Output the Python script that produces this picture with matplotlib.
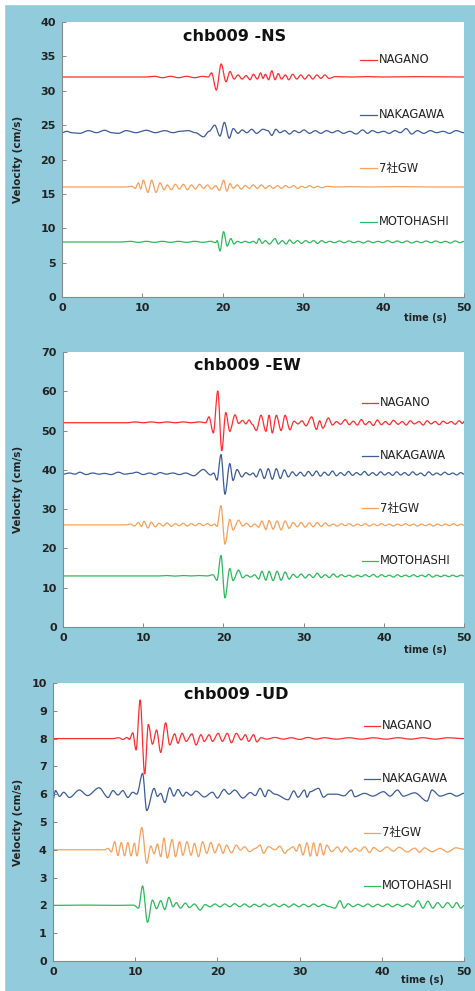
import numpy as np
import matplotlib
matplotlib.use("Agg")
import matplotlib.pyplot as plt
from matplotlib.lines import Line2D
from matplotlib.patches import Rectangle, PathPatch
from matplotlib.path import Path

plt.rcParams['font.family'] = ['DejaVu Sans', 'Noto Sans CJK JP']

stations = ["NAGANO", "NAKAGAWA", "7社GW", "MOTOHASHI"]
colors = ["#FF2D2D", "#3D5C99", "#F8A15A", "#2DBA5C"]

# ---- NS component: (time s, velocity cm/s) turning points, offsets added on plot
ns_offsets = [32, 24, 16, 8]
ns_nagano = [(0, 0), (10.5, 0), (11.5, 0.1), (12.5, -0.1), (13.5, 0.1), (14.5, -0.1), (15.5, 0.1),
             (16.5, -0.1), (17.5, 0.1), (18.2, 0), (18.6, 0.6), (19.2, -1.9), (19.8, 1.9), (20.4, -0.7),
             (20.9, 0.8), (21.4, -0.3), (21.9, 0.3), (22.4, -0.3), (22.9, 0.2), (23.4, -0.4), (23.8, 0.4),
             (24.3, -0.3), (24.7, 0.6), (25.0, -0.2), (25.3, 0.4), (25.7, -0.4), (26.1, 0.9), (26.5, -0.4),
             (26.9, 0.5), (27.3, -0.3), (27.8, 0.3), (28.2, -0.4), (28.7, 0.4), (29.2, -0.3), (29.7, 0.3),
             (30.2, -0.3), (30.7, 0.3), (31.2, -0.3), (31.7, 0.3), (32.2, -0.2), (32.7, 0.3), (33.2, -0.2),
             (34.0, 0.05), (36.0, 0), (38.0, 0.05), (40.0, 0), (44.0, 0.05), (50.0, 0)]
ns_nakagawa = [(0, -0.1), (0.6, 0.1), (1.2, -0.1), (2.2, -0.2), (3.3, 0.2), (4.3, -0.1), (5.3, 0.25),
               (6.2, -0.1), (7.0, -0.2), (8.0, 0.2), (9.2, -0.1), (10.5, 0.25), (11.6, -0.1), (12.8, 0.2),
               (13.8, -0.1), (14.7, 0.1), (15.7, 0.2), (16.6, -0.1), (17.6, -0.7), (18.3, 0.1), (19.0, 1.0),
               (19.65, -0.6), (20.2, 1.4), (20.8, -0.9), (21.3, 0.5), (21.9, -0.2), (22.4, 0.3), (23.0, -0.1),
               (23.6, 0.4), (24.2, -0.2), (25.0, 0.4), (25.6, 0.2), (26.1, -0.5), (26.6, 0.4), (27.1, -0.1),
               (27.7, 0.2), (28.3, -0.3), (28.9, 0.2), (29.5, -0.1), (30.1, 0.3), (30.8, -0.2), (31.5, 0.2),
               (32.2, -0.2), (32.9, 0.2), (33.6, -0.1), (34.3, 0.2), (35.0, -0.2), (35.8, 0.1), (36.6, -0.3),
               (37.4, 0.3), (38.0, -0.2), (38.6, 0.2), (39.3, -0.1), (40.0, 0.1), (40.7, -0.2), (41.4, 0.2),
               (42.1, -0.1), (42.8, 0.5), (43.5, -0.3), (44.2, 0.2), (45.0, -0.2), (45.8, 0.2), (46.6, -0.1),
               (47.4, 0.1), (48.2, -0.2), (49.0, 0.2), (50.0, -0.1)]
ns_gw = [(0, 0), (8.0, 0), (8.7, 0.1), (9.1, -0.2), (9.5, 0.6), (9.8, -0.3), (10.1, 1.0), (10.7, -0.8),
         (11.15, 1.0), (11.7, -0.8), (12.2, 0.6), (12.7, -0.4), (13.1, 0.3), (13.6, -0.4), (14.1, 0.4),
         (14.6, -0.3), (15.1, 0.4), (15.6, -0.4), (16.1, 0.3), (16.6, -0.3), (17.1, 0.4), (17.6, -0.2),
         (18.1, 0.3), (18.6, -0.3), (19.1, 0.2), (19.6, -0.5), (20.1, 1.0), (20.5, -0.6), (20.9, 0.5),
         (21.3, -0.2), (21.8, 0.3), (22.3, -0.3), (22.8, 0.2), (23.3, -0.2), (23.8, 0.3), (24.3, -0.2),
         (24.8, 0.3), (25.3, -0.2), (25.8, 0.2), (26.3, -0.2), (26.8, 0.2), (27.3, -0.2), (27.8, 0.2),
         (28.3, -0.1), (28.8, 0.2), (29.3, -0.2), (29.8, 0.1), (30.3, -0.1), (30.8, 0.2), (31.3, -0.1),
         (31.8, 0.1), (32.3, -0.1), (33.0, 0.1), (34.0, 0), (36.0, 0.05), (38.0, 0), (42.0, 0.05),
         (46.0, 0), (50.0, 0)]
ns_moto = [(0, 0), (7.4, 0), (8.5, 0.1), (9.5, -0.05), (10.5, 0.1), (11.5, -0.05), (12.5, 0.1),
           (13.5, -0.05), (14.5, 0.1), (15.5, -0.05), (16.5, 0.1), (17.5, -0.05), (18.5, 0.1), (19.1, -0.1),
           (19.3, 0.2), (19.65, -1.3), (20.1, 1.5), (20.55, -0.6), (21.0, 0.5), (21.4, -0.3), (21.8, 0.1),
           (22.3, -0.1), (22.8, 0.1), (23.3, -0.1), (23.8, 0.1), (24.2, -0.2), (24.5, 0.5), (24.9, -0.2),
           (25.3, 0.2), (25.8, -0.3), (26.5, 0.5), (26.9, -0.3), (27.4, 0.2), (27.9, -0.3), (28.3, 0.3),
           (28.8, -0.2), (29.3, 0.2), (29.8, -0.2), (30.3, 0.2), (30.8, -0.1), (31.3, 0.2), (31.8, -0.2),
           (32.3, 0.2), (32.8, -0.1), (33.3, 0.1), (33.9, -0.1), (34.5, 0.15), (35.1, -0.1), (35.7, 0.15),
           (36.3, -0.1), (36.9, 0.1), (37.5, -0.15), (38.1, 0.15), (38.7, -0.1), (39.3, 0.1), (39.9, -0.1),
           (40.5, 0.2), (41.1, -0.1), (41.7, 0.15), (42.3, -0.1), (42.9, 0.15), (43.5, -0.15), (44.1, 0.1),
           (44.7, -0.1), (45.3, 0.15), (45.9, -0.1), (46.5, 0.15), (47.1, -0.1), (47.7, 0.1), (48.3, -0.15),
           (48.9, 0.15), (49.5, -0.1), (50.0, 0.1)]

# ---- EW component
ew_offsets = [52, 39, 26, 13]
ew_nagano = [(0, 0), (8, 0), (9, 0.2), (10, 0), (11, 0.2), (12, 0), (13, 0.2), (14, 0), (15, 0.2), (16, 0),
             (17, 0.2), (17.8, 0), (18.2, 1.5), (18.75, -2.6), (19.3, 8.1), (19.8, -7.1), (20.3, 2.6),
             (20.8, -2.2), (21.45, 2.0), (21.9, -0.2), (22.4, 0.6), (22.8, -0.3), (23.2, 0.7), (23.6, -0.4),
             (24.1, -2.0), (24.7, 1.9), (25.3, -2.2), (25.7, 1.9), (26.1, -2.6), (26.6, 1.9), (27.2, -2.0),
             (27.7, 1.9), (28.3, -1.8), (28.8, 0.4), (29.3, -0.3), (29.8, 0.5), (30.3, -0.8), (31.0, 1.5),
             (31.6, -1.7), (32.0, 0.5), (32.4, -1.4), (33.1, 1.2), (33.6, -0.6), (34.1, 0.3), (34.6, -0.4),
             (35.2, 0.8), (35.7, -0.5), (36.2, 0.4), (36.7, -0.6), (37.2, 0.8), (37.7, -0.5), (38.2, 0.3),
             (38.7, -0.7), (39.2, 0.7), (39.7, -0.5), (40.2, 0.3), (40.7, -0.5), (41.2, 0.6), (41.8, -0.4),
             (42.3, 0.3), (42.8, -0.6), (43.3, 0.5), (43.8, -0.3), (44.4, 0.3), (44.9, -0.6), (45.4, 0.5),
             (45.9, -0.3), (46.4, 0.3), (46.9, -0.5), (47.4, 0.4), (47.9, -0.2), (48.4, 0.3), (48.9, -0.4),
             (49.4, 0.5), (49.8, -0.2), (50.0, 0.3)]
ew_nakagawa = [(0, -0.1), (0.8, 0.2), (1.5, -0.1), (2.1, 0.4), (2.9, -0.2), (3.7, 0.2), (4.5, -0.1),
               (5.2, 0.1), (6.0, -0.2), (6.9, 0.4), (7.7, -0.1), (8.5, 0.1), (9.2, 0.4), (10.0, -0.2),
               (10.8, 0.2), (11.5, -0.2), (12.1, 0.3), (12.9, -0.1), (13.7, 0.2), (14.5, -0.2), (15.3, 0.2),
               (16.3, -0.5), (17.5, 1.1), (18.4, -0.3), (18.8, 0.2), (19.2, -1.6), (19.7, 4.9), (20.2, -5.2),
               (20.8, 2.6), (21.2, -1.7), (21.7, 1.1), (22.3, -0.8), (22.8, 0.3), (23.3, -0.3), (23.7, 0.2),
               (24.1, -0.8), (24.6, 1.2), (25.1, -1.2), (25.6, 1.3), (26.1, -1.4), (26.6, 1.3), (27.1, -1.2),
               (27.6, 1.0), (28.1, -0.8), (28.6, 0.5), (29.1, -0.5), (29.6, 0.4), (30.1, -0.6), (30.6, 0.6),
               (31.1, -0.5), (31.6, 0.7), (32.1, -0.6), (32.6, 0.4), (33.1, -0.4), (33.6, 0.7), (34.1, -0.5),
               (34.6, 0.3), (35.1, -0.4), (35.6, 0.6), (36.1, -0.4), (36.6, 0.3), (37.1, -0.3), (37.6, 0.6),
               (38.1, -0.4), (38.6, 0.3), (39.1, -0.4), (39.6, 0.5), (40.1, -0.3), (40.6, 0.3), (41.1, -0.4),
               (41.6, 0.5), (42.1, -0.3), (42.6, 0.3), (43.1, -0.4), (43.6, 0.5), (44.1, -0.3), (44.6, 0.2),
               (45.1, -0.5), (45.6, 0.5), (46.1, -0.3), (46.6, 0.2), (47.1, -0.3), (47.6, 0.4), (48.1, -0.2),
               (48.6, 0.2), (49.1, -0.3), (49.6, 0.3), (50.0, -0.1)]
ew_gw = [(0, 0), (7.9, 0), (8.4, 0.2), (8.9, -0.3), (9.4, 0.6), (9.8, -0.4), (10.1, 0.9), (10.6, -0.8),
         (11.0, 0.7), (11.5, -0.5), (12.0, 0.4), (12.5, -0.3), (13.0, 0.5), (13.5, -0.4), (14.0, 0.3),
         (14.5, -0.2), (15.0, 0.4), (15.5, -0.3), (16.0, 0.3), (16.5, -0.2), (17.0, 0.4), (17.5, -0.2),
         (18.0, 0.3), (18.5, -0.2), (18.9, 0.2), (19.2, -0.4), (19.7, 4.9), (20.2, -4.9), (20.8, 1.4),
         (21.2, -1.3), (21.9, 1.2), (22.4, -0.3), (22.9, 0.4), (23.4, -0.5), (23.9, 0.2), (24.4, -0.6),
         (24.8, 1.0), (25.3, -1.2), (25.7, 1.1), (26.2, -1.1), (26.7, 1.0), (27.2, -1.3), (27.7, 1.0),
         (28.2, -0.9), (28.7, 0.6), (29.2, -0.5), (29.7, 0.6), (30.2, -0.6), (30.7, 0.5), (31.2, -0.5),
         (31.7, 0.6), (32.2, -0.4), (32.7, 0.5), (33.2, -0.3), (33.7, 0.2), (34.2, -0.3), (34.7, 0.3),
         (35.2, -0.2), (35.7, 0.3), (36.2, -0.3), (36.7, 0.2), (37.2, -0.2), (37.7, 0.3), (38.2, -0.3),
         (38.7, 0.2), (39.2, -0.2), (39.7, 0.3), (40.2, -0.2), (40.7, 0.2), (41.2, -0.3), (41.7, 0.2),
         (42.2, -0.2), (42.7, 0.3), (43.2, -0.2), (43.7, 0.2), (44.2, -0.3), (44.7, 0.2), (45.2, -0.2),
         (45.7, 0.2), (46.2, -0.3), (46.7, 0.2), (47.2, -0.2), (47.7, 0.2), (48.2, -0.2), (48.7, 0.3),
         (49.2, -0.2), (49.6, 0.2), (50.0, -0.1)]
ew_moto = [(0, 0), (12, 0), (13, 0.1), (14, -0.05), (15, 0.1), (16, 0), (17, 0.1), (18, 0), (18.7, 0.3),
           (19.2, -1.1), (19.7, 5.2), (20.2, -5.6), (20.8, 1.9), (21.2, -1.2), (21.9, 1.5), (22.4, -0.5),
           (22.9, 0.2), (23.4, -0.3), (23.9, 0.3), (24.4, -0.8), (24.8, 1.2), (25.3, -1.1), (25.7, 1.2),
           (26.2, -1.2), (26.7, 1.2), (27.2, -1.1), (27.7, 1.0), (28.2, -0.8), (28.7, 0.4), (29.2, -0.4),
           (29.7, 0.5), (30.2, -0.5), (30.7, 0.4), (31.2, -0.4), (31.7, 0.7), (32.2, -0.4), (32.7, 0.3),
           (33.2, -0.4), (33.7, 0.5), (34.2, -0.3), (34.7, 0.3), (35.2, -0.2), (35.7, 0.2), (36.2, -0.3),
           (36.7, 0.2), (37.2, -0.2), (37.7, 0.3), (38.2, -0.2), (38.7, 0.4), (39.2, -0.3), (39.7, 0.3),
           (40.2, -0.2), (40.7, 0.2), (41.2, -0.3), (41.7, 0.3), (42.2, -0.2), (42.7, 0.2), (43.2, -0.2),
           (43.7, 0.3), (44.2, -0.2), (44.7, 0.2), (45.2, -0.2), (45.6, 0.4), (46.1, -0.3), (46.6, 0.2),
           (47.1, -0.2), (47.6, 0.2), (48.1, -0.2), (48.6, 0.2), (49.1, -0.2), (49.6, 0.2), (50.0, 0)]

# ---- UD component
ud_offsets = [8, 6, 4, 2]
ud_nagano = [(0, 0), (7.3, 0), (8.0, 0.03), (8.5, -0.03), (9.0, 0.04), (9.3, -0.03), (9.7, 0.21),
             (10.1, -0.41), (10.6, 1.39), (11.15, -1.27), (11.6, 0.51), (12.1, -0.2), (12.6, 0.31),
             (13.1, -0.5), (13.7, 0.57), (14.2, -0.23), (14.8, 0.17), (15.2, -0.17), (15.7, 0.19),
             (16.2, -0.1), (16.9, 0.17), (17.4, -0.23), (18.0, 0.14), (18.4, -0.1), (19.0, 0.14),
             (19.4, -0.1), (20.1, 0.19), (20.6, -0.1), (21.2, 0.19), (21.7, -0.15), (22.3, 0.19),
             (22.9, -0.05), (23.4, 0.14), (23.8, -0.1), (24.4, 0.14), (24.8, -0.12), (25.3, 0.03),
             (26.0, -0.02), (27.0, 0.04), (28.0, -0.02), (29.0, 0.03), (30.0, -0.03), (31.0, 0.04),
             (32.0, -0.02), (33.0, 0.03), (34.5, -0.02), (36.0, 0.03), (37.5, -0.02), (39.0, 0.03),
             (40.5, -0.02), (42.0, 0.03), (43.5, -0.02), (45.0, 0.03), (46.5, -0.02), (48.0, 0.03), (50.0, 0)]
ud_nakagawa = [(0, -0.2), (0.3, 0.13), (0.8, -0.08), (1.3, 0.07), (2.0, -0.12), (3.2, 0.15), (4.2, -0.05),
               (5.6, 0.23), (6.7, -0.12), (7.3, 0.13), (7.9, -0.03), (8.5, 0.13), (9.1, -0.12), (9.7, 0.07),
               (10.2, 0.0), (10.9, 0.75), (11.4, -0.59), (12.3, 0.21), (12.7, -0.08), (13.1, 0.03),
               (13.6, -0.3), (14.2, 0.23), (14.7, -0.07), (15.2, 0.17), (15.8, -0.07), (16.2, 0.07),
               (16.8, -0.04), (17.4, 0.11), (18.4, -0.1), (19.4, 0.07), (20.0, -0.14), (20.8, 0.17),
               (21.4, 0.0), (22.1, 0.15), (23.1, -0.14), (24.0, 0.06), (24.6, -0.05), (25.2, 0.21),
               (25.8, -0.09), (26.2, 0.15), (27.0, 0.0), (28.6, -0.2), (29.3, 0.12), (29.8, -0.11),
               (30.6, 0.15), (30.9, -0.11), (31.3, 0.09), (32.3, 0.21), (32.9, -0.11), (33.5, 0.0),
               (34.5, 0.0), (35.4, -0.06), (36.3, 0.15), (36.7, -0.09), (37.9, 0.03), (38.9, -0.07),
               (40.2, 0.09), (41.0, -0.07), (41.9, 0.15), (42.6, -0.07), (44.0, 0.05), (45.5, -0.25),
               (46.1, 0.15), (47.1, -0.07), (48.3, 0.03), (49.1, -0.07), (50.0, 0.03)]
ud_gw = [(0, 0), (6.3, 0), (6.7, 0.05), (7.1, -0.08), (7.5, 0.29), (7.9, -0.21), (8.3, 0.26), (8.7, -0.22),
         (9.1, 0.26), (9.5, -0.22), (9.9, 0.24), (10.2, -0.22), (10.8, 0.8), (11.4, -0.49), (11.9, 0.14),
         (12.3, -0.14), (12.7, 0.21), (13.1, -0.25), (13.5, 0.42), (13.9, -0.3), (14.5, 0.37),
         (14.9, -0.25), (15.4, 0.29), (15.8, -0.2), (16.3, 0.29), (16.8, -0.2), (17.2, 0.23),
         (17.7, -0.25), (18.2, 0.29), (18.7, -0.13), (19.2, 0.26), (19.7, -0.11), (20.2, 0.21),
         (20.7, -0.13), (21.1, 0.17), (21.7, -0.11), (22.3, 0.17), (22.8, -0.01), (23.3, 0.11),
         (23.9, -0.07), (24.6, 0.05), (25.2, 0.17), (25.6, -0.13), (26.2, 0.11), (27.0, 0.0), (27.6, 0.13),
         (28.2, -0.13), (28.6, 0.0), (29.2, 0.11), (29.6, -0.05), (30.0, 0.2), (30.4, -0.19), (30.9, 0.25),
         (31.3, -0.23), (31.7, 0.25), (32.1, -0.22), (32.5, 0.23), (32.9, -0.19), (33.3, 0.17),
         (33.9, -0.07), (34.6, 0.1), (35.1, -0.08), (35.6, 0.11), (36.2, -0.08), (36.8, 0.06),
         (37.3, -0.05), (37.9, 0.11), (38.5, -0.1), (39.0, 0.08), (39.8, -0.06), (40.6, 0.1),
         (41.4, -0.05), (42.1, 0.09), (43.1, -0.08), (44.0, 0.06), (44.6, -0.09), (45.2, 0.07),
         (46.1, -0.07), (47.1, 0.05), (48.0, -0.08), (49.0, 0.07), (50.0, 0.02)]
ud_moto = [(0, 0), (4, 0.01), (8, 0), (9.8, 0.01), (10.4, -0.1), (10.9, 0.7), (11.5, -0.61), (12.1, 0.19),
           (12.6, -0.12), (13.1, 0.17), (13.6, -0.15), (14.1, 0.29), (14.6, -0.05), (15.0, 0.1),
           (15.5, -0.1), (16.1, 0.08), (16.6, -0.08), (17.2, 0.05), (17.9, -0.17), (18.5, 0.03),
           (19.1, -0.05), (19.7, 0.05), (20.3, -0.05), (20.9, 0.05), (21.5, -0.05), (22.1, 0.06),
           (22.7, -0.05), (23.3, 0.05), (23.9, -0.06), (24.5, 0.04), (25.1, -0.05), (25.7, 0.05),
           (26.3, -0.04), (26.9, 0.05), (27.5, -0.05), (28.1, 0.04), (28.7, -0.06), (29.3, 0.05),
           (29.9, -0.05), (30.5, 0.04), (31.1, -0.05), (31.7, 0.05), (32.3, -0.04), (32.9, 0.04),
           (33.5, -0.04), (34.3, -0.1), (34.9, 0.17), (35.4, -0.1), (35.9, 0.06), (36.5, -0.05),
           (37.1, 0.04), (37.7, -0.04), (38.3, 0.05), (38.9, -0.05), (39.5, 0.04), (40.1, -0.04),
           (40.7, 0.05), (41.3, -0.05), (41.9, 0.04), (42.5, -0.04), (43.1, 0.05), (43.8, -0.06),
           (44.4, 0.17), (45.0, -0.1), (45.6, 0.15), (46.2, -0.1), (46.8, 0.1), (47.4, -0.08), (48.0, 0.1),
           (48.6, -0.08), (49.1, 0.1), (49.6, -0.1), (50.0, 0.0)]

titles = ["chb009 -NS", "chb009 -EW", "chb009 -UD"]
traces = [[ns_nagano, ns_nakagawa, ns_gw, ns_moto],
          [ew_nagano, ew_nakagawa, ew_gw, ew_moto],
          [ud_nagano, ud_nakagawa, ud_gw, ud_moto]]
offsets = [ns_offsets, ew_offsets, ud_offsets]
yticks = [np.arange(0, 41, 5), np.arange(0, 71, 10), np.arange(0, 11, 1)]
xticks = [0, 10, 20, 30, 40, 50]

# layout (figure fractions / axes fractions)
rects = [[0.1305, 0.7003, 0.8463, 0.2775],
         [0.1326, 0.3673, 0.8442, 0.2775],
         [0.1116, 0.0303, 0.8653, 0.2805]]
title_xy = [(0.429, 0.947), (0.461, 0.951), (0.445, 0.957)]
key_y = [[0.862, 0.662, 0.469, 0.273],
         [0.816, 0.623, 0.432, 0.241],
         [0.846, 0.655, 0.461, 0.270]]
key_x = [(0.741, 0.784), (0.745, 0.786), (0.757, 0.796)]
time_xy = [(0.905, -0.076), (0.904, -0.084), (0.900, -0.068)]
ylab_x = [-0.097, -0.100, -0.073]


def smooth_trace(points, offset):
    # turning points joined by Bezier segments with flat tangents at each extreme
    t = [p[0] for p in points]
    v = [p[1] + offset for p in points]
    verts = [(t[0], v[0])]
    codes = [Path.MOVETO]
    for i in range(1, len(t)):
        d = (t[i] - t[i - 1]) / 3
        verts += [(t[i - 1] + d, v[i - 1]), (t[i] - d, v[i]), (t[i], v[i])]
        codes += [Path.CURVE4] * 3
    return Path(verts, codes)


bg = "#92CCDC"
fig = plt.figure(figsize=(4.75, 9.91), dpi=100, facecolor=bg)
fig.patches.append(Rectangle((0, 0), 4 / 475, 1, transform=fig.transFigure, color="white", zorder=-1))
fig.patches.append(Rectangle((0, 1 - 4 / 991), 1, 4 / 991, transform=fig.transFigure, color="white", zorder=-1))

for p in range(3):
    ax = fig.add_axes(rects[p])
    ax.set_facecolor("white")
    for s in range(4):
        ax.add_patch(PathPatch(smooth_trace(traces[p][s], offsets[p][s]), fill=False,
                               edgecolor=colors[s], lw=0.9, capstyle="round", joinstyle="round"))
        x0, x1 = key_x[p]
        ax.add_line(Line2D([x0, x1], [key_y[p][s]] * 2, transform=ax.transAxes,
                           color=colors[s], lw=0.9))
        ax.text(x1 + 0.004, key_y[p][s], stations[s], transform=ax.transAxes,
                fontsize=8.3, color="#222222", va="center", ha="left")
    ax.set_xlim(0, 50)
    ax.set_ylim(yticks[p][0], yticks[p][-1])
    ax.set_xticks(xticks)
    ax.set_yticks(yticks[p])
    ax.tick_params(direction="in", length=3, width=0.7, color="#888888",
                   labelsize=8, labelcolor="#222222", pad=4.5)
    for lab in ax.get_xticklabels() + ax.get_yticklabels():
        lab.set_fontweight("bold")
    for side in ["top", "right"]:
        ax.spines[side].set_visible(False)
    for side in ["left", "bottom"]:
        ax.spines[side].set_color("#888888")
        ax.spines[side].set_linewidth(0.8)
    ax.text(title_xy[p][0], title_xy[p][1], titles[p], transform=ax.transAxes,
            fontsize=11.5, fontweight="bold", ha="center", va="center", color="#111111")
    ax.text(time_xy[p][0], time_xy[p][1], "time (s)", transform=ax.transAxes,
            fontsize=7, fontweight="bold", ha="center", va="center", color="#222222")
    ax.set_ylabel("Velocity (cm/s)", fontsize=7.5, fontweight="bold", color="#222222")
    ax.yaxis.set_label_coords(ylab_x[p], 0.5)

fig.savefig("out.png", dpi=100, facecolor=bg)
